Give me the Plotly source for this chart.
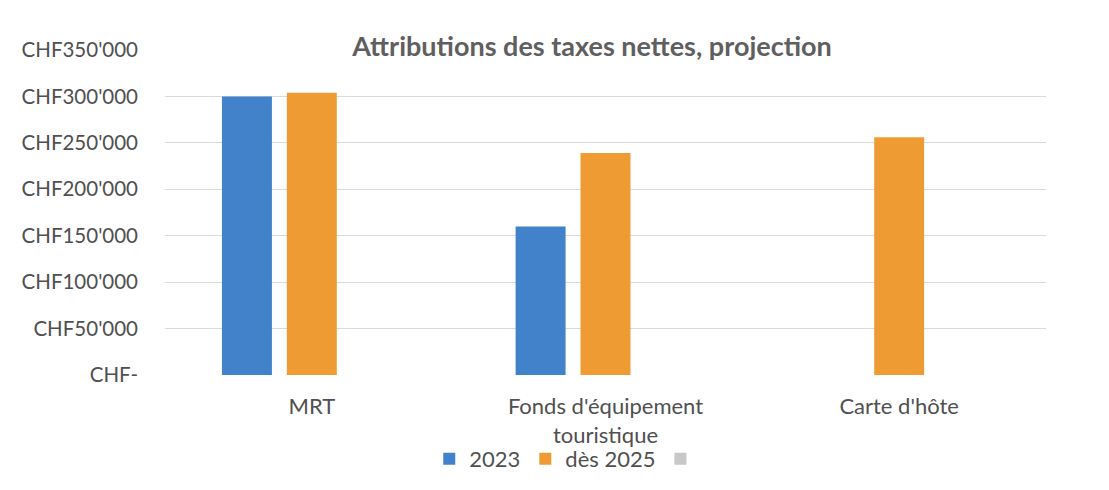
import plotly.graph_objects as go

categories = ["MRT", "Fonds d'équipement<br>touristique", "Carte d'hôte"]
series_names = ["2023", "dès 2025", " "]
values_2023 = [300000, 160000, None]
values_2025 = [304000, 239000, 256000]
values_third = [None, None, None]
tick_vals = [0, 50000, 100000, 150000, 200000, 250000, 300000, 350000]
tick_text = ["CHF-", "CHF50'000", "CHF100'000", "CHF150'000", "CHF200'000",
             "CHF250'000", "CHF300'000", "CHF350'000"]
title_text = "Attributions des taxes nettes, projection"

colors = ["#4182CA", "#EF9B33", "#C8C8C8"]
FONT = "Lato, Calibri, sans-serif"

fig = go.Figure()
for name, vals, col in zip(series_names, [values_2023, values_2025, values_third], colors):
    fig.add_trace(go.Bar(x=categories, y=vals, name=name, marker_color=col,
                         marker_line_width=0))

fig.update_layout(
    width=1109, height=490,
    paper_bgcolor="white", plot_bgcolor="white",
    margin=dict(l=157, r=71, t=42, b=123),
    barmode="group", bargap=0.337, bargroupgap=0.23,
    font=dict(family=FONT, size=20, color="#505050"),
    title=dict(text="<b>" + title_text + "</b>", x=584 / 1109, xanchor="center",
               y=1 - 39 / 490, yanchor="middle",
               font=dict(family=FONT, size=27, color="#5f5f5f")),
    legend=dict(orientation="h", x=0.46, xanchor="center", y=-0.258,
                yanchor="middle", font=dict(size=22, color="#505050"),
                bgcolor="rgba(0,0,0,0)", itemwidth=30, traceorder="normal"),
    showlegend=True,
)
fig.update_xaxes(showgrid=False, showline=False, ticks="", ticklabelstandoff=16,
                 tickfont=dict(size=22, color="#505050"))
fig.update_yaxes(range=[0, 350000], tickvals=tick_vals, ticktext=tick_text,
                 showgrid=True, gridcolor="#DADADA", gridwidth=1, zeroline=False,
                 showline=False, ticks="", ticklabelstandoff=26,
                 tickfont=dict(size=20.5, color="#505050"))

fig.write_html("out.html")
